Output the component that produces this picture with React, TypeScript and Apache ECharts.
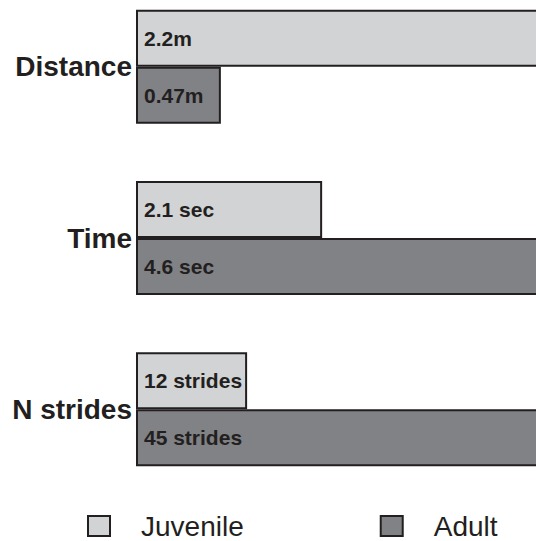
import React, { useEffect, useRef } from "react";
import * as echarts from "echarts";

const categories = ["Distance", "Time", "N strides"];
const seriesNames = ["Juvenile", "Adult"];
// Relative bar lengths (1 = longest bar of the measure)
const juvenileLength = [1, 0.454, 0.271];
const adultLength = [0.207, 1, 1];
const juvenileLabels = ["2.2m", "2.1 sec", "12 strides"];
const adultLabels = ["0.47m", "4.6 sec", "45 strides"];

const FONT = "'Liberation Sans', Arial, Helvetica, sans-serif";
const INK = "#231f20";
const LIGHT = "#d1d3d4";
const DARK = "#808285";

// The chart canvas overhangs the window a little at the top and right,
// so that the top band padding and the long bars' ends fall outside the picture.
const OFF_TOP = 19;
const OFF_RIGHT = 10;

export default function App() {
  const ref = useRef<HTMLDivElement>(null);
  useEffect(() => {
    if (!ref.current) return;
    const chart = echarts.init(ref.current, undefined, { renderer: "svg" });
    const makeSeries = (name: string, values: number[], labels: string[], color: string) => ({
      name,
      type: "bar",
      data: values,
      barWidth: 57,
      barGap: "0%",
      itemStyle: { color, borderColor: INK, borderWidth: 2 },
      label: {
        show: true,
        position: "insideLeft",
        distance: 8,
        formatter: (p: any) => labels[p.dataIndex],
        fontFamily: FONT,
        fontWeight: "bold",
        fontSize: 21,
        color: INK,
      },
    });
    chart.setOption({
      animation: false,
      backgroundColor: "#ffffff",
      grid: { left: 136, right: 0, top: 0, bottom: 46, containLabel: false },
      xAxis: { type: "value", min: 0, max: 1, show: false },
      yAxis: {
        type: "category",
        data: categories,
        inverse: true,
        axisLine: { show: false },
        axisTick: { show: false },
        splitLine: { show: false },
        axisLabel: {
          margin: 4,
          fontFamily: FONT,
          fontWeight: "bold",
          fontSize: 28,
          color: INK,
        },
      },
      legend: {
        data: seriesNames,
        left: 87,
        top: 512 + OFF_TOP,
        padding: 0,
        itemWidth: 22,
        itemHeight: 20,
        itemGap: 136,
        icon: "rect",
        itemStyle: { borderColor: INK, borderWidth: 2 },
        textStyle: {
          fontFamily: FONT,
          fontSize: 28,
          color: INK,
          padding: [0, 0, 0, 26],
        },
      },
      series: [
        makeSeries(seriesNames[0], juvenileLength, juvenileLabels, LIGHT),
        makeSeries(seriesNames[1], adultLength, adultLabels, DARK),
      ],
    });
    return () => chart.dispose();
  }, []);
  return (
    <div
      ref={ref}
      style={{
        position: "fixed",
        left: 0,
        top: -OFF_TOP,
        width: 536 + OFF_RIGHT,
        height: 541 + OFF_TOP,
        background: "#fff",
      }}
    />
  );
}
